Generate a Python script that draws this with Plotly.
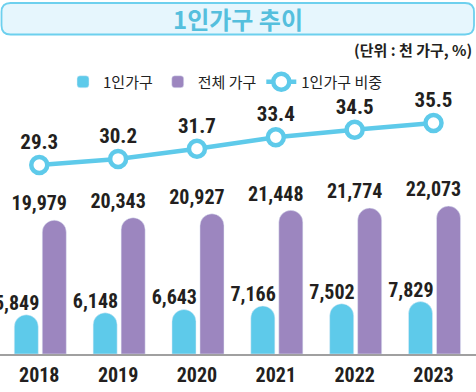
import plotly.graph_objects as go

years = ["2018", "2019", "2020", "2021", "2022", "2023"]
single = [5849, 6148, 6643, 7166, 7502, 7829]
total = [19979, 20343, 20927, 21448, 21774, 22073]
ratio = [29.3, 30.2, 31.7, 33.4, 34.5, 35.5]

W, H = 476, 392
T, B = 95, 38
PH = H - T - B

CYAN = "#5ECAEA"
PURPLE = "#9C86BF"
DARK = "#231F20"
NUMFONT = "Roboto Condensed, Open Sans Condensed, sans-serif"
KRFONT = "Noto Sans CJK KR, sans-serif"

def px_x(p):
    return p / W

def px_y(p):
    return (T + PH - p) / PH

fig = go.Figure()
# purple drawn first so cyan labels sit on top
fig.add_trace(go.Bar(
    x=years, y=total, name="전체 가구", legendrank=2,
    marker=dict(color=PURPLE, cornerradius="50%"),
    offset=0.038, width=0.305,
))
fig.add_trace(go.Bar(
    x=years, y=single, name="1인가구", legendrank=1,
    marker=dict(color=CYAN, cornerradius="50%"),
    offset=-0.317, width=0.305,
))
# value labels
fig.add_trace(go.Scatter(
    x=years, y=total, mode="markers+text", showlegend=False, hoverinfo="skip",
    marker=dict(size=6, opacity=0),
    text=[f"{v:,}" for v in total], textposition="top center",
    textfont=dict(family=NUMFONT, size=20, color=DARK, weight="bold"),
    cliponaxis=False,
))
fig.add_trace(go.Scatter(
    x=years, y=single, mode="text", showlegend=False, hoverinfo="skip",
    text=[f"{v:,}" for v in single], textposition="top left",
    textfont=dict(family=NUMFONT, size=20, color=DARK, weight="bold"),
    cliponaxis=False,
))
fig.add_trace(go.Scatter(
    x=years, y=ratio, name="1인가구 비중", yaxis="y2", legendrank=3,
    mode="lines+markers+text",
    line=dict(color=CYAN, width=4.5),
    marker=dict(size=16, color="white", line=dict(color=CYAN, width=4.5)),
    text=[f"{v:.1f}" for v in ratio], textposition="top center",
    textfont=dict(family=NUMFONT, size=21, color=DARK, weight="bold"),
    cliponaxis=False,
))

# rounded title box
x0, x1 = 1.5, 474
y0, y1 = 3, 34.5
r = 9
path = (
    f"M {px_x(x0 + r)},{px_y(y0)} L {px_x(x1 - r)},{px_y(y0)} "
    f"Q {px_x(x1)},{px_y(y0)} {px_x(x1)},{px_y(y0 + r)} "
    f"L {px_x(x1)},{px_y(y1 - r)} "
    f"Q {px_x(x1)},{px_y(y1)} {px_x(x1 - r)},{px_y(y1)} "
    f"L {px_x(x0 + r)},{px_y(y1)} "
    f"Q {px_x(x0)},{px_y(y1)} {px_x(x0)},{px_y(y1 - r)} "
    f"L {px_x(x0)},{px_y(y0 + r)} "
    f"Q {px_x(x0)},{px_y(y0)} {px_x(x0 + r)},{px_y(y0)} Z"
)
fig.add_shape(type="path", xref="paper", yref="paper", path=path,
              fillcolor="#E6F6FD", line=dict(color="#6DD0EE", width=1.8), layer="below")

fig.add_annotation(x=0.5, y=px_y(19), xref="paper", yref="paper",
                   text="<b>1인가구 추이</b>", showarrow=False,
                   font=dict(family=KRFONT, size=24, color="#55BFDD"),
                   xanchor="center", yanchor="middle")
fig.add_annotation(x=px_x(474), y=px_y(50), xref="paper", yref="paper",
                   text="<b>(단위 : 천 가구, %)</b>", showarrow=False,
                   font=dict(family=KRFONT, size=15, color=DARK),
                   xanchor="right", yanchor="middle")

fig.update_layout(
    width=W, height=H,
    margin=dict(l=0, r=0, t=T, b=B, pad=0),
    paper_bgcolor="white", plot_bgcolor="white",
    barmode="overlay",
    showlegend=True,
    legend=dict(orientation="h", x=px_x(63), xanchor="left",
                y=px_y(82), yanchor="middle",
                font=dict(family=KRFONT, size=15, color="#222222"),
                itemwidth=30),
    xaxis=dict(range=[-0.498, 5.539], showgrid=False, showline=True,
               linecolor="#A0A0A0", linewidth=1.5, ticks="",
               tickfont=dict(family=NUMFONT, size=20, color=DARK, weight="bold"),
               ticklabelstandoff=2, fixedrange=True),
    yaxis=dict(range=[0, PH / 0.0067], visible=False, showgrid=False, fixedrange=True),
    yaxis2=dict(range=[29.3 - (T + PH - 165) / 6.77, 29.3 + (165 - T) / 6.77],
                overlaying="y", visible=False, showgrid=False, fixedrange=True),
)

fig.write_html("out.html", config={"displayModeBar": False},
               post_script="document.body.style.margin='0';document.body.style.overflow='hidden';")
